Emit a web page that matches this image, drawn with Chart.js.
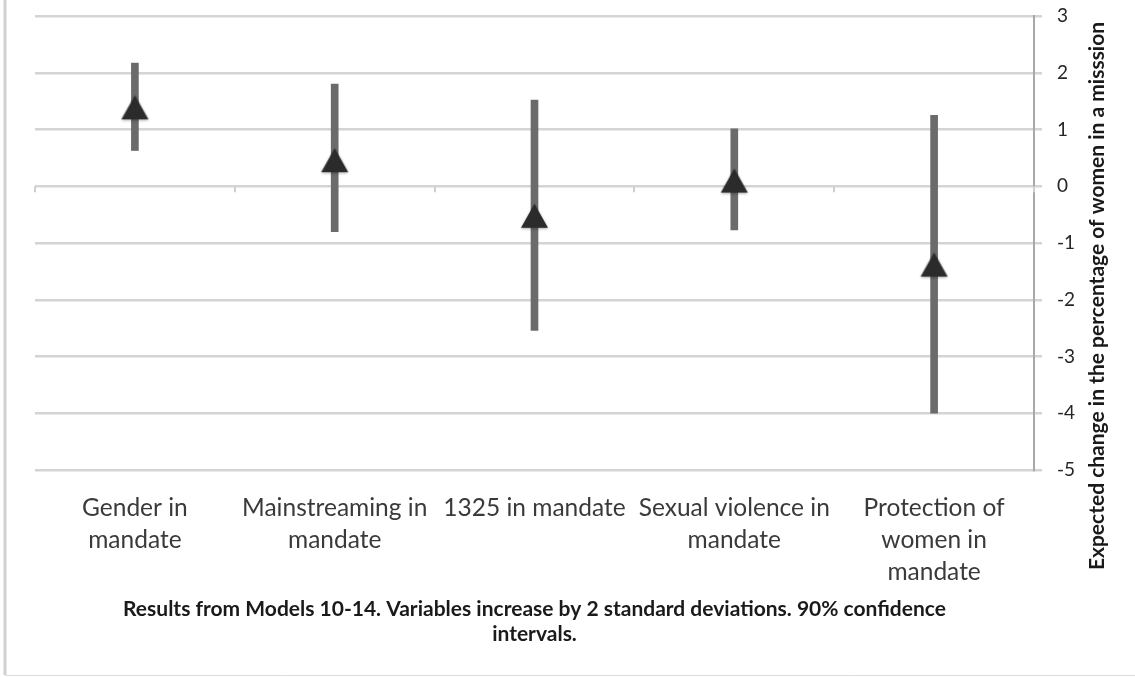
<!DOCTYPE html>
<html>
<head>
<meta charset="utf-8">
<script src="https://cdn.jsdelivr.net/npm/chart.js@4.4.0/dist/chart.umd.min.js"></script>
<style>
  html, body { margin: 0; padding: 0; background: #fff; }
  #wrap { width: 1135px; height: 677px; position: relative; }
</style>
</head>
<body>
<div id="wrap"><canvas id="c" width="1135" height="677"></canvas></div>
<script>
// Mandate variables (x categories)
const categories = [
  ['Gender in', 'mandate'],
  ['Mainstreaming in', 'mandate'],
  ['1325 in mandate'],
  ['Sexual violence in', 'mandate'],
  ['Protection of', 'women in', 'mandate']
];
// Point estimates and 90% confidence bounds
const estimates   = [1.39, 0.46, -0.52, 0.10, -1.38];
const lowerBounds = [0.63, -0.80, -2.54, -0.77, -4.00];
const upperBounds = [2.17, 1.80, 1.52, 1.01, 1.25];
// Value axis range
const yMin = -5;
const yMax = 3;
const yStep = 1;
const yTitle = 'Expected change in the percentage of women in a misssion';
const footnote = [
  'Results from Models 10-14. Variables increase by 2 standard deviations. 90% confidence',
  'intervals.'
];

const FONT = 'Lato, "Open Sans", sans-serif';

// Triangle marker image, centred on its bounding box
function makeTriangle(w, h) {
  const pad = 5;
  const cv = document.createElement('canvas');
  cv.width = w + pad * 2;
  cv.height = h + pad * 2;
  const g = cv.getContext('2d');
  g.shadowColor = 'rgba(0,0,0,0.35)';
  g.shadowBlur = 3;
  g.shadowOffsetY = 1;
  g.fillStyle = '#2b2b2b';
  g.beginPath();
  g.moveTo(pad + w / 2, pad);
  g.lineTo(pad + w, pad + h);
  g.lineTo(pad, pad + h);
  g.closePath();
  g.fill();
  return cv;
}
const triangle = makeTriangle(27, 24);

const intervals = lowerBounds.map((lo, i) => [lo, upperBounds[i]]);

const decor = {
  id: 'decor',
  beforeDatasetsDraw(chart) {
    // small category-boundary ticks hanging below the zero line
    const { ctx, scales: { x, y } } = chart;
    const y0 = y.getPixelForValue(0);
    ctx.save();
    ctx.strokeStyle = '#cfcfcf';
    ctx.lineWidth = 2;
    for (let i = 0; i <= categories.length; i++) {
      const px = Math.round(x.getPixelForValue(i - 0.5));
      ctx.beginPath();
      ctx.moveTo(px, y0);
      ctx.lineTo(px, y0 + 6);
      ctx.stroke();
    }
    ctx.restore();
  },
  afterDraw(chart) {
    const { ctx, chartArea } = chart;
    ctx.save();
    // outer frame (left and bottom edges)
    ctx.strokeStyle = '#d0d0d0';
    ctx.lineWidth = 3;
    ctx.beginPath();
    ctx.moveTo(5, 0);
    ctx.lineTo(5, chart.height - 2);
    ctx.stroke();
    ctx.lineWidth = 1;
    ctx.strokeStyle = '#dcdcdc';
    ctx.beginPath();
    ctx.moveTo(5, chart.height - 1.5);
    ctx.lineTo(chart.width, chart.height - 1.5);
    ctx.stroke();
    // value axis title, reading bottom to top
    ctx.translate(chart.width - 38, chartArea.top + 280);
    ctx.rotate(-Math.PI / 2);
    ctx.fillStyle = '#1a1a1a';
    ctx.font = 'bold 21px ' + FONT;
    ctx.textAlign = 'center';
    ctx.textBaseline = 'middle';
    ctx.fillText(yTitle, 0, 0);
    ctx.restore();
  }
};

new Chart(document.getElementById('c'), {
  type: 'bar',
  data: {
    labels: categories,
    datasets: [
      {
        type: 'line',
        data: estimates,
        showLine: false,
        pointStyle: triangle,
        pointRadius: 14,
        pointHoverRadius: 14,
        order: 1
      },
      {
        type: 'bar',
        data: intervals,
        backgroundColor: '#6b6b6b',
        borderWidth: 0,
        barThickness: 7,
        order: 2
      }
    ]
  },
  options: {
    responsive: false,
    animation: false,
    devicePixelRatio: 1,
    layout: { padding: { left: 35, top: 16, right: 0, bottom: 0 } },
    plugins: {
      legend: { display: false },
      tooltip: { enabled: false }
    },
    scales: {
      x: {
        type: 'category',
        offset: true,
        grid: { display: false, drawTicks: false },
        border: { display: false },
        ticks: {
          color: '#3a3a3a',
          font: { family: FONT, size: 24.5, lineHeight: 1.31 },
          padding: 22,
          maxRotation: 0,
          autoSkip: false
        },
        title: {
          display: true,
          text: footnote,
          color: '#1a1a1a',
          font: { family: FONT, size: 21, weight: 'bold', lineHeight: 1.19 },
          padding: { top: 0, bottom: 30 }
        },
        afterFit(s) { s.height = 207; }
      },
      y: {
        position: 'right',
        min: yMin,
        max: yMax,
        ticks: {
          stepSize: yStep,
          color: '#262626',
          font: { family: FONT, size: 19 },
          padding: 15
        },
        grid: { color: '#d4d4d4', lineWidth: 2.5, tickLength: 8, drawTicks: true },
        border: { display: true, color: '#a8a8a8', width: 2 },
        afterFit(s) {
          s.width = 101;
          s.paddingTop = 0;
          s.paddingBottom = 0;
        }
      }
    }
  },
  plugins: [decor]
});
</script>
</body>
</html>
